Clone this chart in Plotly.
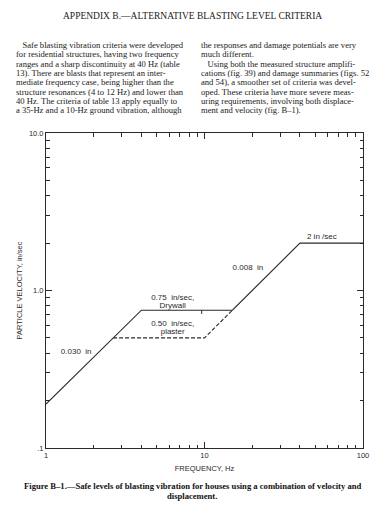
import plotly.graph_objects as go

# ---- data ----
freq_solid = [1, 4, 15, 40, 100]
vel_solid = [0.19, 0.75, 0.75, 2.0, 2.0]
freq_dash = [2.65, 10, 15]
vel_dash = [0.5, 0.5, 0.75]
tick_mark_f = [9.6, 9.6]
tick_mark_v = [0.75, 0.71]

x_tickvals = [1, 10, 100]
x_ticktext = ["1", "10", "100"]
x_minor = [2, 3, 4, 5, 6, 7, 8, 9, 20, 30, 40, 50, 60, 70, 80, 90]
y_tickvals = [0.1, 1, 10]
y_ticktext = [".1", "1.0", "10.0"]
y_minor = [0.2, 0.3, 0.4, 0.5, 0.6, 0.7, 0.8, 0.9, 2, 3, 4, 5, 6, 7, 8, 9]

curve_labels = ["2 in /sec", "0.008  in", "0.75  in/sec,", "Drywall", "0.50  in/sec,", "plaster", "0.030  in"]
curve_label_f = [55, 18.8, 6.3, 6.3, 6.3, 6.3, 1.55]
curve_label_v = [2.18, 1.38, 0.90, 0.80, 0.61, 0.545, 0.405]

title_text = "APPENDIX B.—ALTERNATIVE BLASTING LEVEL CRITERIA"
left_col = [
    "   Safe blasting vibration criteria were developed",
    "for residential structures, having two frequency",
    "ranges and a sharp discontinuity at 40 Hz (table",
    "13). There are blasts that represent an inter-",
    "mediate frequency case, being higher than the",
    "structure resonances (4 to 12 Hz) and lower than",
    "40 Hz. The criteria of table 13 apply equally to",
    "a 35-Hz and a 10-Hz ground vibration, although",
]
right_col = [
    "the responses and damage potentials are very",
    "much different.",
    "   Using both the measured structure amplifi-",
    "cations (fig. 39) and damage summaries (figs. 52",
    "and 54), a smoother set of criteria was devel-",
    "oped. These criteria have more severe meas-",
    "uring requirements, involving both displace-",
    "ment and velocity (fig. B–1).",
]
caption = [
    "<b>Figure B–1.—Safe levels of blasting vibration for houses using a combination of velocity and</b>",
    "<b>displacement.</b>",
]

W, H = 384, 507
ML, MR, MT, MB = 46, 21, 133, 59
ink = "#2a2a2a"
sans = "Liberation Sans"
serif = "Liberation Serif"

fig = go.Figure()
fig.add_trace(go.Scatter(x=freq_solid, y=vel_solid, mode="lines",
                         line=dict(color=ink, width=1.1), showlegend=False, hoverinfo="skip"))
fig.add_trace(go.Scatter(x=freq_dash, y=vel_dash, mode="lines",
                         line=dict(color=ink, width=1.1, dash="4px,2px"), showlegend=False, hoverinfo="skip"))
fig.add_trace(go.Scatter(x=tick_mark_f, y=tick_mark_v, mode="lines",
                         line=dict(color=ink, width=1), showlegend=False, hoverinfo="skip"))
fig.add_trace(go.Scatter(x=curve_label_f, y=curve_label_v, mode="text", text=curve_labels,
                         textfont=dict(family=sans, size=8, color=ink),
                         showlegend=False, hoverinfo="skip"))
# invisible trace on the mirrored axes so they are drawn
fig.add_trace(go.Scatter(x=[1, 100], y=[0.1, 10], xaxis="x2", yaxis="y2", mode="markers",
                         marker=dict(opacity=0), showlegend=False, hoverinfo="skip"))


def axis_style(minor_vals):
    return dict(
        type="log", showgrid=False, zeroline=False, showline=True, linecolor=ink, linewidth=1,
        ticks="inside", ticklen=6, tickcolor=ink, tickwidth=1,
        tickfont=dict(family=sans, size=7.5, color=ink),
        minor=dict(ticks="inside", ticklen=3.5, tickcolor=ink, tickwidth=1, showgrid=False,
                   tickmode="array", tickvals=minor_vals),
    )


fig.update_layout(
    xaxis=dict(**axis_style(x_minor), range=[0, 2], tickvals=x_tickvals, ticktext=x_ticktext,
               title=dict(text="FREQUENCY, Hz", font=dict(family=sans, size=7.5, color=ink), standoff=6)),
    yaxis=dict(**axis_style(y_minor), range=[-1, 1], tickvals=y_tickvals, ticktext=y_ticktext,
               title=dict(text="PARTICLE VELOCITY, in/sec", font=dict(family=sans, size=7.5, color=ink), standoff=5)),
    xaxis2=dict(**axis_style(x_minor), range=[0, 2], tickvals=x_tickvals, showticklabels=False,
                overlaying="x", side="top", anchor="y2"),
    yaxis2=dict(**axis_style(y_minor), range=[-1, 1], tickvals=y_tickvals, showticklabels=False,
                overlaying="y", side="right", anchor="x2"),
)


def to_paper(px, py):
    return (px - ML) / (W - ML - MR), 1 - (py - MT) / (H - MT - MB)


final = []
tx, ty = to_paper(192, 16)
final.append(dict(text=title_text, x=tx, y=ty, xref="paper", yref="paper",
                  showarrow=False, font=dict(family=serif, size=9.5, color="#1a1a1a"),
                  xanchor="center", yanchor="middle"))
line_y0, dy = 45, 9.3
for col_x, col in ((14, left_col), (199, right_col)):
    for i, t in enumerate(col):
        xp, yp = to_paper(col_x, line_y0 + i * dy)
        final.append(dict(text=t.replace("   ", "&nbsp;&nbsp;&nbsp;"), x=xp, y=yp,
                          xref="paper", yref="paper", showarrow=False,
                          xanchor="left", yanchor="middle", align="left",
                          font=dict(family=serif, size=8.6, color="#1a1a1a")))
cap_y = [486, 496]
for i, t in enumerate(caption):
    xp, yp = to_paper(192, cap_y[i])
    final.append(dict(text=t, x=xp, y=yp, xref="paper", yref="paper", showarrow=False,
                      xanchor="center", yanchor="middle",
                      font=dict(family=serif, size=8.6, color="#111111")))

fig.update_layout(
    width=W, height=H, autosize=False,
    margin=dict(l=ML, r=MR, t=MT, b=MB),
    paper_bgcolor="white", plot_bgcolor="white",
    annotations=final,
)

fig.write_html("out.html", config={"displayModeBar": False},
               post_script="document.body.style.margin='0';")
